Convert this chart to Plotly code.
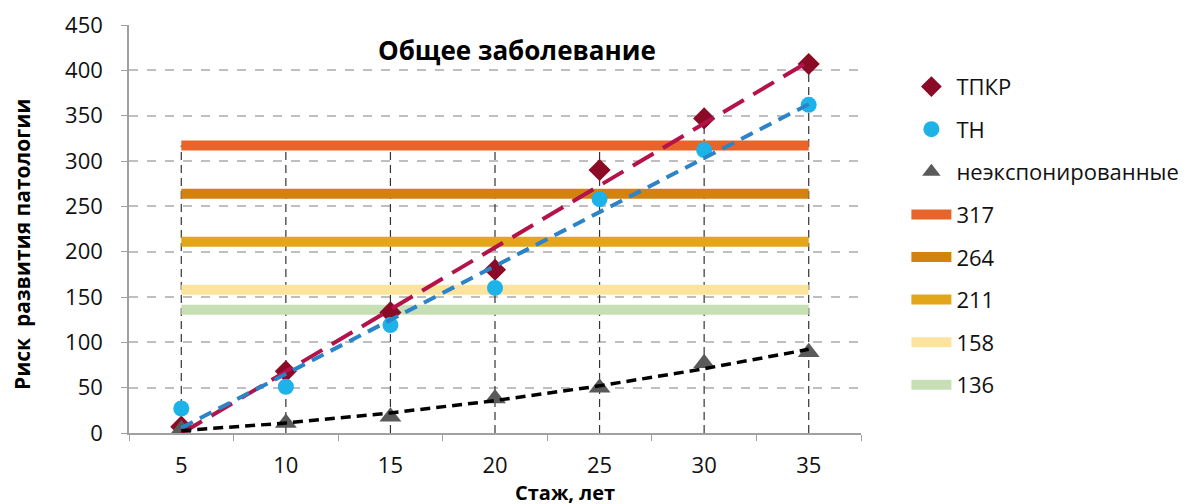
import numpy as np
import plotly.graph_objects as go

# ---- data ----
staj = [5, 10, 15, 20, 25, 30, 35]
tpkr = [7, 68, 133, 180, 290, 347, 407]
tn = [27, 51, 119, 160, 258, 312, 362]
neexp = [4, 11, 18, 38, 50, 77, 89]
levels = [317, 264, 211, 158, 136]
level_colors = ["#E8642A", "#D4820F", "#E3A51A", "#FCE39E", "#C7DFB5"]
y_ticks = [0, 50, 100, 150, 200, 250, 300, 350, 400, 450]

FONT = "Open Sans"
fig = go.Figure()

# drop lines (from axis to highest point at each category)
tops = [max([a, b, c] + levels) for a, b, c in zip(tpkr, tn, neexp)]
dx, dy = [], []
for x, t in zip(staj, tops):
    dx += [x, x, None]
    dy += [0, t, None]
fig.add_trace(go.Scatter(x=dx, y=dy, mode="lines", showlegend=False, hoverinfo="skip",
                         line=dict(color="#333333", width=1.2, dash="8px,5px")))

# horizontal level lines
for i, (lv, col) in enumerate(zip(levels, level_colors)):
    fig.add_trace(go.Scatter(x=staj, y=[lv] * len(staj), mode="lines", name=str(lv),
                             legendgroup=f"g{lv}", legendrank=4 + i,
                             line=dict(color=col, width=10)))

# markers
fig.add_trace(go.Scatter(x=staj, y=tpkr, mode="markers", name="ТПКР", legendgroup="gA", legendrank=1,
                         marker=dict(symbol="diamond", size=17, color="#8B0A26")))
fig.add_trace(go.Scatter(x=staj, y=tn, mode="markers", name="ТН", legendgroup="gB", legendrank=2,
                         marker=dict(symbol="circle", size=16, color="#1DB2E8")))
fig.add_trace(go.Scatter(x=staj, y=neexp, mode="markers", name="неэкспонированные", legendgroup="gC",
                         legendrank=3, marker=dict(symbol="triangle-up", size=19, color="#5A5A5A")))

# trend lines (fitted from the data)
xs = np.linspace(min(staj), max(staj), 61)
p1 = np.polyfit(staj, tpkr, 1)
p2 = np.polyfit(staj, tn, 1)
p3 = np.polyfit(staj, neexp, 2)
fig.add_trace(go.Scatter(x=xs, y=np.polyval(p1, xs), mode="lines", showlegend=False, hoverinfo="skip",
                         line=dict(color="#B3134A", width=4, dash="24px,11px")))
fig.add_trace(go.Scatter(x=xs, y=np.polyval(p2, xs), mode="lines", showlegend=False, hoverinfo="skip",
                         line=dict(color="#2B83C8", width=4, dash="13px,8px")))
fig.add_trace(go.Scatter(x=xs, y=np.polyval(p3, xs), mode="lines", showlegend=False, hoverinfo="skip",
                         line=dict(color="#000000", width=3.5, dash="10px,6px")))

fig.update_layout(
    width=1198, height=504,
    margin=dict(l=121, r=345, t=17, b=79, autoexpand=False),
    paper_bgcolor="white", plot_bgcolor="white",
    font=dict(family=FONT, size=22, color="#111111"),
    legend=dict(x=1.062, y=0.90, xanchor="left", yanchor="top", tracegroupgap=11,
                font=dict(size=22, family=FONT), bgcolor="rgba(0,0,0,0)", itemwidth=40),
    xaxis=dict(range=[2.5, 37.5], tickvals=staj, ticktext=[str(s) for s in staj],
               showgrid=False, zeroline=False, showline=True, linecolor="#A0A0A0", linewidth=1.5,
               ticks="", minor=dict(tick0=2.5, dtick=5, ticks="outside", ticklen=6, tickcolor="#A0A0A0"),
               tickfont=dict(size=22), ticklabelstandoff=12),
    yaxis=dict(range=[0, 450], tickvals=y_ticks, showgrid=True, gridcolor="#BFBFBF", griddash="dash",
               gridwidth=1.5, zeroline=False, showline=True, linecolor="#A0A0A0", linewidth=1.5,
               ticks="outside", ticklen=6, tickcolor="#A0A0A0", tickfont=dict(size=22),
               ticklabelstandoff=14),
    annotations=[
        dict(text="<b>Общее заболевание</b>", xref="paper", yref="paper", x=0.53, y=0.939,
             xanchor="center", yanchor="middle",
             showarrow=False, font=dict(size=26, family=FONT, color="#000")),
        dict(text="<b>Стаж, лет</b>", xref="paper", yref="paper", x=0.596, y=-0.147,
             xanchor="center", yanchor="middle",
             showarrow=False, font=dict(size=20, family=FONT, color="#000")),
        dict(text="<b>Риск  развития патологии</b>", xref="paper", yref="paper", x=-0.146, y=0.461,
             xanchor="center", yanchor="middle",
             textangle=-90, showarrow=False, font=dict(size=21, family=FONT, color="#000")),
    ],
)

fig.write_html("out.html")
